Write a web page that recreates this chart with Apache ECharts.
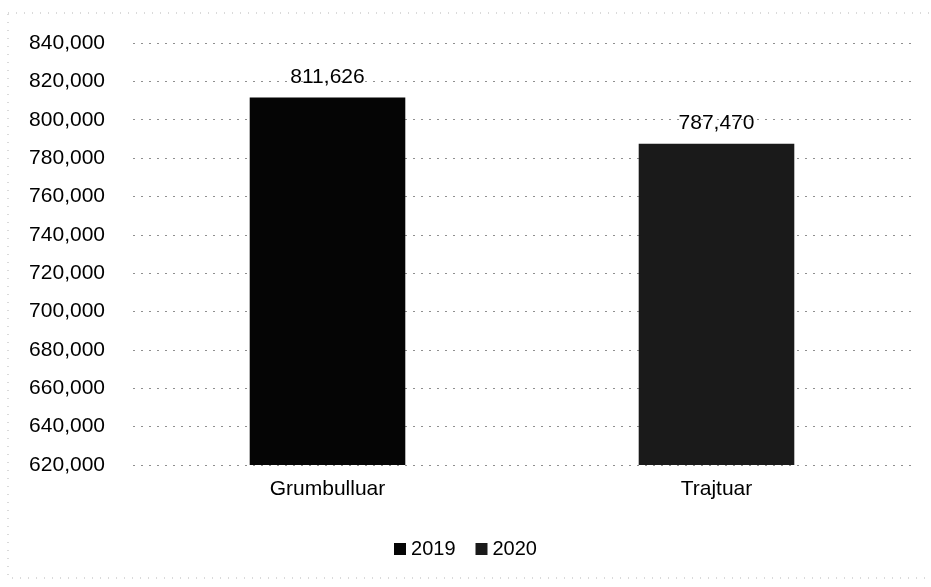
<!DOCTYPE html>
<html>
<head>
<meta charset="utf-8">
<style>
  html, body { margin: 0; padding: 0; background: #fff; }
  #chart { width: 931px; height: 587px; }
</style>
<script src="https://cdn.jsdelivr.net/npm/echarts@6/dist/echarts.min.js"></script>
</head>
<body>
<div id="chart"></div>
<script>
// Categories and yearly values
const categories = ['Grumbulluar', 'Trajtuar'];
const seriesNames = ['2019', '2020'];
const values2019 = [811626, null];
const values2020 = [null, 787470];
const yTicks = { min: 620000, max: 840000, interval: 20000 };

const font = '"Liberation Sans", Arial, sans-serif';
const fmt = v => v.toLocaleString('en-US');

const chart = echarts.init(document.getElementById('chart'), null, { renderer: 'canvas' });

const labelStyle = {
  show: true,
  position: 'top',
  distance: 10,
  color: '#000',
  fontFamily: font,
  fontSize: 21,
  formatter: p => fmt(p.value)
};

chart.setOption({
  animation: false,
  backgroundColor: '#fff',
  grid: { left: 133, right: 20, top: 43, bottom: 122, containLabel: false },
  // faint dotted frame around the chart area
  graphic: [{
    type: 'rect',
    silent: true,
    shape: { x: 8, y: 13, width: 940, height: 565 },
    style: { fill: 'none', stroke: '#b5b5b5', lineWidth: 1, lineDash: [1, 7] }
  }],
  legend: {
    data: seriesNames,
    bottom: 23,
    left: 'center',
    itemWidth: 12,
    itemHeight: 12,
    itemGap: 20,
    icon: 'rect',
    textStyle: { fontFamily: font, fontSize: 20, color: '#000' }
  },
  xAxis: {
    type: 'category',
    data: categories,
    axisLine: { show: false },
    axisTick: { show: false },
    axisLabel: { fontFamily: font, fontSize: 21, color: '#000', margin: 14 }
  },
  yAxis: {
    type: 'value',
    min: yTicks.min,
    max: yTicks.max,
    interval: yTicks.interval,
    axisLine: { show: false },
    axisTick: { show: false },
    axisLabel: { fontFamily: font, fontSize: 21, color: '#000', margin: 28, formatter: v => fmt(v) },
    splitLine: { lineStyle: { color: '#8f8f8f', type: [2, 6], width: 1 } }
  },
  series: [
    {
      name: seriesNames[0],
      type: 'bar',
      data: values2019,
      barWidth: '40%',
      barGap: '-100%',
      itemStyle: { color: '#050505' },
      label: labelStyle
    },
    {
      name: seriesNames[1],
      type: 'bar',
      data: values2020,
      barWidth: '40%',
      itemStyle: { color: '#1a1a1a' },
      label: labelStyle
    }
  ]
});
</script>
</body>
</html>
